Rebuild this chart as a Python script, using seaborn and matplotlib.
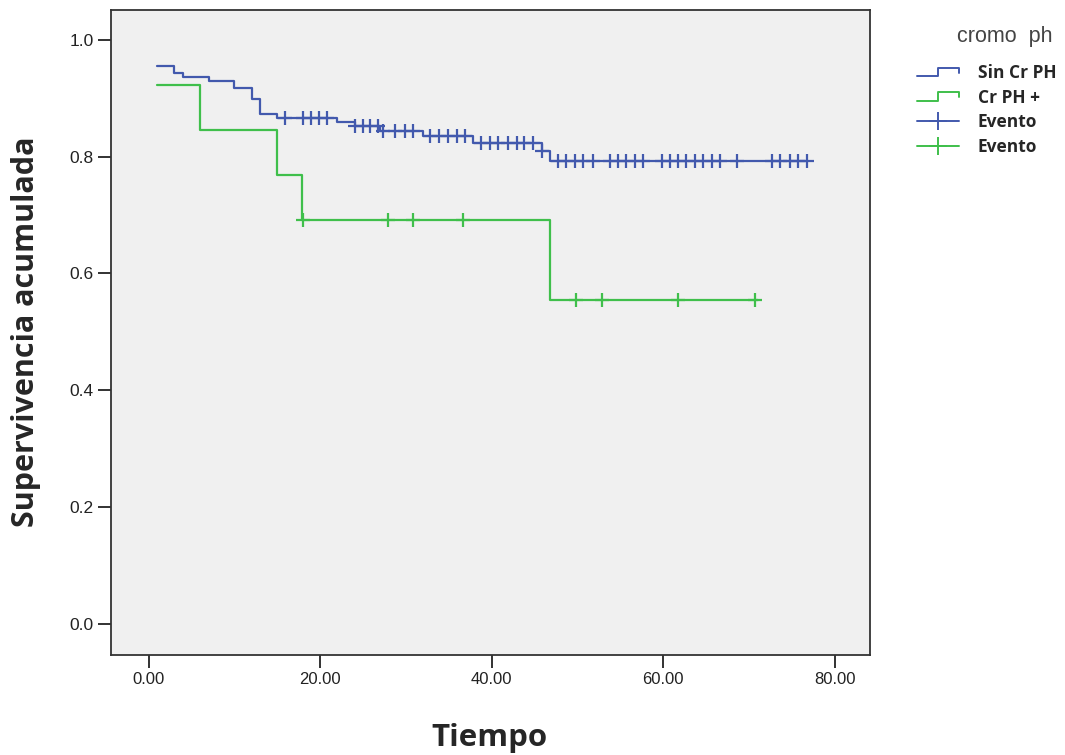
import numpy as np
import pandas as pd
import seaborn as sns
import matplotlib.pyplot as plt
from matplotlib.lines import Line2D
from matplotlib.legend_handler import HandlerBase

# Kaplan-Meier steps (time, cumulative survival)
sin_t = [1.0, 3.0, 4.0, 7.0, 10.0, 12.0, 13.0, 15.0, 22.0, 24.0, 27.0, 32.0, 37.8, 45.8, 46.8, 76.8]
sin_s = [0.955, 0.943, 0.937, 0.930, 0.917, 0.898, 0.873, 0.866, 0.860, 0.853, 0.844, 0.836,
         0.824, 0.810, 0.793, 0.793]
sin_cens = [15.9, 18.0, 18.9, 19.8, 20.8, 24.0, 25.0, 25.8, 26.7, 27.3, 28.7, 29.9, 30.8,
            32.8, 33.9, 34.9, 35.9, 36.9, 38.8, 39.8, 40.7, 41.9, 42.9, 43.8, 44.8, 45.8,
            47.7, 48.7, 49.7, 50.6, 51.8, 53.8, 54.7, 55.7, 56.7, 57.6, 59.8, 60.8, 61.7,
            62.7, 63.7, 64.6, 65.7, 66.6, 68.6, 72.7, 73.6, 74.8, 75.7, 76.7]

ph_t = [1.0, 6.0, 14.9, 17.9, 46.8, 71.0]
ph_s = [0.923, 0.846, 0.769, 0.692, 0.554, 0.554]
ph_cens = [18.0, 27.9, 30.8, 36.6, 49.8, 52.8, 61.7, 70.7]

groups = ["Sin Cr PH", "Cr PH +"]
colors = {"Sin Cr PH": "#4259ad", "Cr PH +": "#3fbf4b"}

steps = pd.concat([
    pd.DataFrame({"t": sin_t, "s": sin_s, "g": groups[0]}),
    pd.DataFrame({"t": ph_t, "s": ph_s, "g": groups[1]}),
])


def surv_at(times, st, ss):
    idx = np.searchsorted(st, times, side="right") - 1
    return np.array(ss)[idx]


cens = pd.concat([
    pd.DataFrame({"t": sin_cens, "s": surv_at(sin_cens, sin_t, sin_s), "g": groups[0]}),
    pd.DataFrame({"t": ph_cens, "s": surv_at(ph_cens, ph_t, ph_s), "g": groups[1]}),
])

sns.set_style("ticks", {"axes.facecolor": "#f0f0f0", "axes.edgecolor": "#333333"})
plt.rcParams["font.family"] = ["Liberation Sans", "DejaVu Sans"]

fig = plt.figure(figsize=(10.65, 7.55), dpi=100)
ax = fig.add_axes([0.1042, 0.1325, 0.7127, 0.8543])

for g in groups:
    d = steps[steps.g == g]
    sns.lineplot(data=d, x="t", y="s", drawstyle="steps-post", color=colors[g],
                 lw=1.6, estimator=None, ax=ax, legend=False)
    c = cens[cens.g == g]
    sns.scatterplot(data=c, x="t", y="s", marker="+", s=110, color=colors[g],
                    linewidth=1.6, ax=ax, legend=False, zorder=3)

ax.set_xlim(-4.4, 84.1)
ax.set_ylim(-0.053, 1.051)
ax.set_xticks([0, 20, 40, 60, 80])
ax.set_xticklabels(["0.00", "20.00", "40.00", "60.00", "80.00"], fontsize=12)
ax.set_yticks([0, 0.2, 0.4, 0.6, 0.8, 1.0])
ax.set_yticklabels(["0.0", "0.2", "0.4", "0.6", "0.8", "1.0"], fontsize=12.5)
ax.tick_params(length=9.5, width=1.3, color="#222222", labelcolor="#222222", pad=3)
for sp in ax.spines.values():
    sp.set_linewidth(1.3)

ax.set_xlabel("")
ax.set_ylabel("")
fig.text(0.46, 0.022, "Tiempo", fontsize=22.5, fontweight="bold", ha="center", va="center",
         family=["Open Sans", "DejaVu Sans"])
fig.text(0.024, 0.56, "Supervivencia acumulada", fontsize=22, fontweight="bold",
         rotation=90, ha="center", va="center", family=["Open Sans", "DejaVu Sans"])


class StepHandler(HandlerBase):
    def create_artists(self, legend, orig, xd, yd, w, h, fontsize, trans):
        xs = [0, 0.5 * w, 0.5 * w, w, w]
        ys = [0.15 * h, 0.15 * h, 0.85 * h, 0.85 * h, 0.45 * h]
        ln = Line2D(np.array(xs) - xd, np.array(ys) - yd, color=orig.get_color(), lw=1.4,
                    transform=trans)
        return [ln]


h_sin = Line2D([], [], color=colors["Sin Cr PH"])
h_ph = Line2D([], [], color=colors["Cr PH +"])
h_ev1 = Line2D([], [], color=colors["Sin Cr PH"], marker="+", markersize=13, lw=1.4, mew=1.4)
h_ev2 = Line2D([], [], color=colors["Cr PH +"], marker="+", markersize=13, lw=1.4, mew=1.4)

leg = fig.legend([h_sin, h_ph, h_ev1, h_ev2], ["Sin Cr PH", "Cr PH +", "Evento", "Evento"],
                 handler_map={h_sin: StepHandler(), h_ph: StepHandler()},
                 loc="upper left", bbox_to_anchor=(0.861, 0.915), frameon=False,
                 borderpad=0, borderaxespad=0, handlelength=2.4, handletextpad=1.1,
                 labelspacing=0.38, prop={"weight": "bold", "size": 12.5,
                                          "family": ["Open Sans", "DejaVu Sans"]})
fig.text(0.943, 0.951, "cromo  ph", fontsize=15.5, color="#444444", ha="center", va="center")

fig.savefig("out.png", dpi=100)
